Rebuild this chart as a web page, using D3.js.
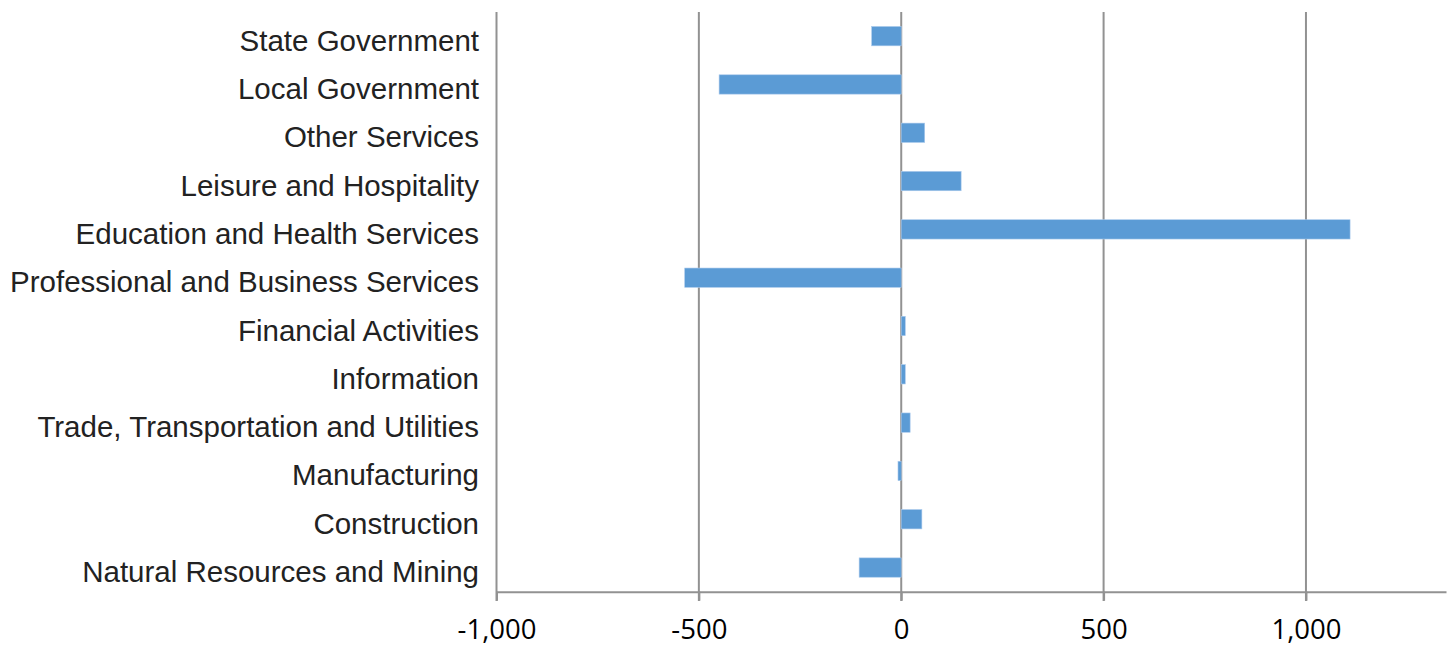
<!DOCTYPE html>
<html><head><meta charset="utf-8">
<script src="https://cdn.jsdelivr.net/npm/d3@7"></script>
<style>body{margin:0;background:#fff}</style>
</head><body>
<svg id="c" width="1448" height="647"></svg>
<script>
const categories = ["State Government","Local Government","Other Services","Leisure and Hospitality","Education and Health Services","Professional and Business Services","Financial Activities","Information","Trade, Transportation and Utilities","Manufacturing","Construction","Natural Resources and Mining"];
const values = [-73, -450, 58, 148, 1109, -535, 10, 10, 22, -8, 51, -104];
const tickValues = [-1000, -500, 0, 500, 1000];

const svg = d3.select("#c");
const x = d3.scaleLinear().domain([-1000, 1346]).range([496.5, 1446]);
const y = d3.scaleBand().domain(categories).range([12, 591.7]).paddingInner(0.6).paddingOuter(0.3);

// gridlines
svg.append("g").selectAll("line").data(tickValues).join("line")
  .attr("x1", d => x(d)).attr("x2", d => x(d)).attr("y1", 12).attr("y2", 601)
  .attr("stroke", "#929292").attr("stroke-width", 2);

// bars
svg.append("g").selectAll("rect").data(values).join("rect")
  .attr("x", d => Math.min(x(0), x(d)))
  .attr("width", d => Math.abs(x(d) - x(0)))
  .attr("y", (d, i) => y(categories[i]))
  .attr("height", y.bandwidth())
  .attr("fill", "#5b9bd5")
  .attr("stroke", "#a9c9ec").attr("stroke-width", 0.6);

// x axis
const xAxis = d3.axisBottom(x).tickValues(tickValues).tickSize(9).tickSizeOuter(0)
  .tickFormat(d3.format(","));
const gx = svg.append("g").attr("transform", "translate(0,591.7)").call(xAxis);
gx.select(".domain").attr("stroke", "#929292").attr("stroke-width", 2);
gx.selectAll(".tick line").attr("stroke", "#929292").attr("stroke-width", 2);
gx.selectAll(".tick text").attr("font-family", "'Open Sans', sans-serif").attr("font-size", 27.5)
  .attr("fill", "#000").attr("dy", 0).attr("y", 47.5).text(d => d3.format(",")(d).replace("−","-"));

// category labels
svg.append("g").selectAll("text").data(categories).join("text")
  .attr("x", 479).attr("y", d => y(d) + y.bandwidth() / 2 + 14.5)
  .attr("text-anchor", "end")
  .attr("font-family", "'Liberation Sans', Arial, sans-serif").attr("font-size", 29.5)
  .attr("fill", "#222").text(d => d);
</script>
</body></html>
